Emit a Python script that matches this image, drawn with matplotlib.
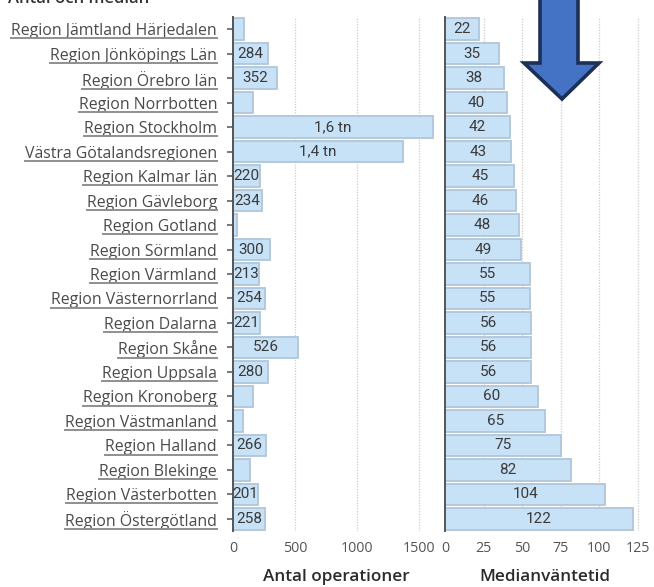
import matplotlib
matplotlib.use("Agg")
import matplotlib.pyplot as plt
from matplotlib.lines import Line2D
from matplotlib.patches import Polygon

regions = [
    "Region Jämtland Härjedalen", "Region Jönköpings Län", "Region Örebro län",
    "Region Norrbotten", "Region Stockholm", "Västra Götalandsregionen",
    "Region Kalmar län", "Region Gävleborg", "Region Gotland", "Region Sörmland",
    "Region Värmland", "Region Västernorrland", "Region Dalarna", "Region Skåne",
    "Region Uppsala", "Region Kronoberg", "Region Västmanland", "Region Halland",
    "Region Blekinge", "Region Västerbotten", "Region Östergötland",
]
antal_operationer = [90, 284, 352, 160, 1610, 1370, 220, 234, 30, 300, 213,
                     254, 221, 526, 280, 160, 80, 266, 135, 201, 258]
median_vantetid = [22, 35, 38, 40, 42, 43, 45, 46, 48, 49, 55, 55, 56, 56, 56,
                   60, 65, 75, 82, 104, 122]
left_ticks = [0, 500, 1000, 1500]
right_ticks = [0, 25, 50, 75, 100, 125]

W, H = 654, 587
fig = plt.figure(figsize=(W / 100, H / 100), dpi=100)
fig.patch.set_facecolor("white")

BAR_FC = "#c7e1f6"
BAR_EC = "#b0c6da"
TXT = "#3a3a3a"
LABEL_TXT = "#4a4a4a"
FONT = "Open Sans"

def px_axes(x0, x1, ytop, ybot):
    return fig.add_axes([x0 / W, 1 - ybot / H, (x1 - x0) / W, (ybot - ytop) / H])

ax1 = px_axes(233, 440, 17, 531)
ax2 = px_axes(445, 644, 17, 531)

def fmt_count(v):
    if v >= 1000:
        return f"{v / 1000:.1f}".replace(".", ",") + " tn"
    return str(v)

ypos = list(range(len(regions)))

for ax, vals, ticks, xmax in ((ax1, antal_operationer, left_ticks, 1669),
                              (ax2, median_vantetid, right_ticks, 129)):
    ax.barh(ypos, vals, height=0.88, color=BAR_FC, edgecolor=BAR_EC,
            linewidth=1.3, zorder=2)
    ax.set_xlim(0, xmax)
    ax.set_ylim(len(regions) - 0.5, -0.5)
    ax.set_xticks(ticks)
    ax.tick_params(axis="x", length=0, pad=7, labelsize=10.3, labelcolor="#555555")
    for lab in ax.get_xticklabels():
        lab.set_fontfamily(FONT)
    ax.grid(axis="x", color="#cccccc", linestyle=(0, (1, 1.2)), linewidth=0.9,
            zorder=3)
    for s in ("top", "right", "bottom"):
        ax.spines[s].set_visible(False)
    ax.spines["left"].set_color("#555555")
    ax.spines["left"].set_linewidth(1.4)
    ax.spines["left"].set_zorder(4)

# The spine already marks zero, so hide that gridline
for ax in (ax1, ax2):
    ax.get_xgridlines()[0].set_visible(False)

ax1.set_yticks(ypos)
ax1.set_yticklabels(regions)
ax1.tick_params(axis="y", length=4.5, width=1.1, color="#555555", pad=7,
                labelsize=11.4, labelcolor=LABEL_TXT)
for lab in ax1.get_yticklabels():
    lab.set_fontfamily(FONT)
ax2.set_yticks([])

for y, v in zip(ypos, antal_operationer):
    if v >= 200:
        ax1.text(v / 2, y, fmt_count(v), ha="center", va="center", fontsize=11,
                 color=TXT, family="Roboto", zorder=5)
for y, v in zip(ypos, median_vantetid):
    ax2.text(v / 2, y, str(v), ha="center", va="center", fontsize=11,
             color=TXT, family="Roboto", zorder=5)

fig.text(336.5 / W, 1 - 577 / H, "Antal operationer", ha="center", va="center",
         fontsize=12.3, fontweight="semibold", color="#2b2b2b", family=FONT)
fig.text(544.5 / W, 1 - 577 / H, "Medianväntetid", ha="center", va="center",
         fontsize=12.3, fontweight="semibold", color="#2b2b2b", family=FONT)

fig.text(8 / W, 1 - 3 / H, "Antal och median", ha="left", va="baseline",
         fontsize=12, fontweight="semibold", color="#333333", family=FONT)

# Down arrow
arrow_px = [(540, -5), (578, -5), (578, 63), (599, 63), (562, 99), (524, 63),
            (540, 63)]
arrow = Polygon([(x / W, 1 - y / H) for x, y in arrow_px], closed=True,
                transform=fig.transFigure, facecolor="#4472c4",
                edgecolor="#1c2f57", linewidth=2.6, joinstyle="miter", zorder=10)
fig.add_artist(arrow)

# Underline the region names
fig.canvas.draw()
renderer = fig.canvas.get_renderer()
for lab in ax1.get_yticklabels():
    bb = lab.get_window_extent(renderer)
    yl = bb.y0 + 0.8
    fig.add_artist(Line2D([bb.x0 / W, bb.x1 / W], [yl / H, yl / H],
                          transform=fig.transFigure, color="#8f8f8f",
                          linewidth=1.4))

fig.savefig("out.png", dpi=100)
